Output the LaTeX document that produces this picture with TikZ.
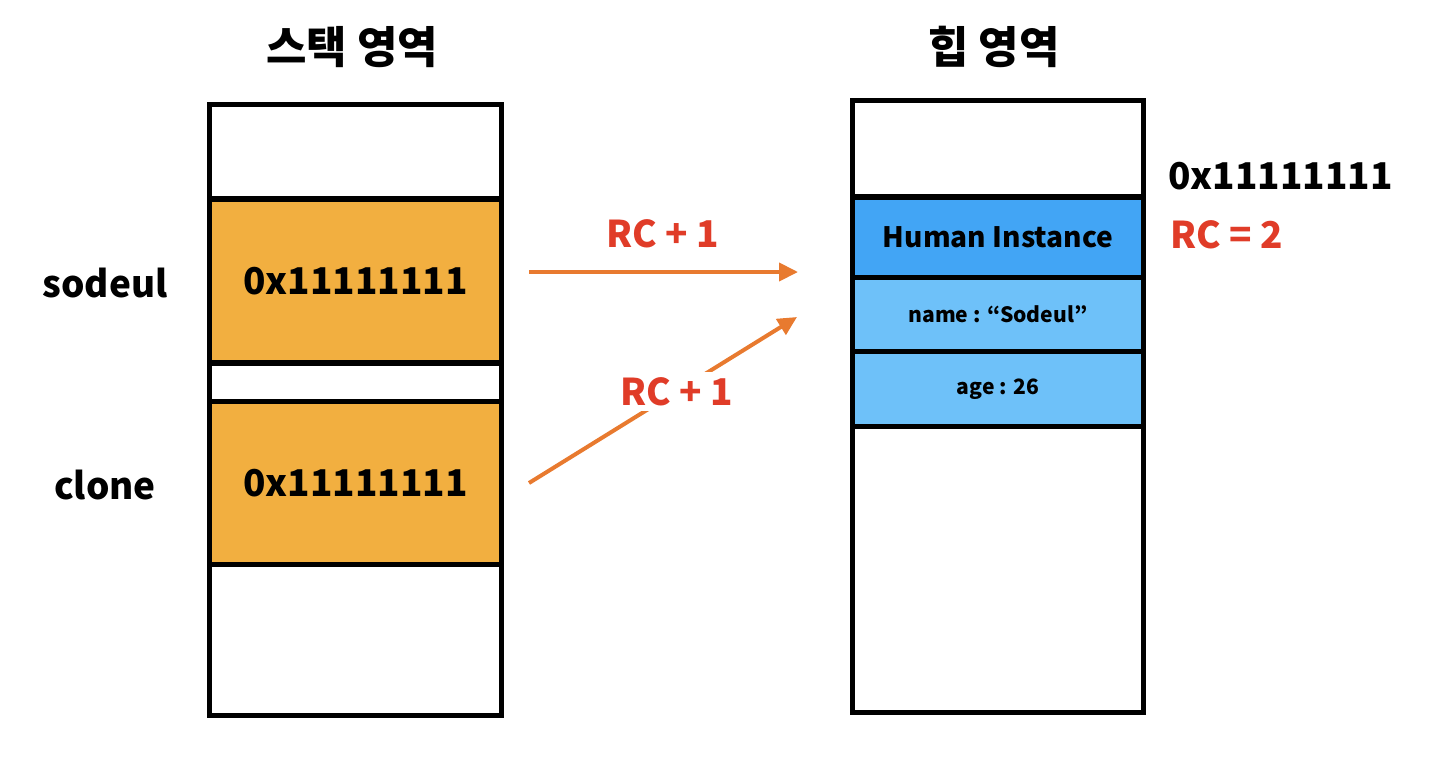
\documentclass[tikz,border=0pt]{standalone}
\usepackage{fontspec}
\setmainfont{Noto Sans CJK KR}
\usetikzlibrary{arrows.meta}

\definecolor{cellorange}{RGB}{242,175,64}
\definecolor{instblue}{RGB}{66,165,245}
\definecolor{fieldblue}{RGB}{110,193,249}
\definecolor{arroworange}{RGB}{232,122,47}
\definecolor{rcred}{RGB}{224,60,40}

\begin{document}
\begin{tikzpicture}[x=0.02cm, y=-0.02cm,
  cell/.style={draw, line width=0.1cm, inner sep=0pt, outer sep=0pt, minimum width=5.84cm},
  big/.style={font=\bfseries\fontsize{21}{24}\selectfont},
  title/.style={font=\bfseries\fontsize{25}{28}\selectfont},
  small/.style={font=\bfseries\fontsize{12}{14}\selectfont},
  refarrow/.style={arroworange, line width=0.08cm, -{Triangle[length=0.38cm, width=0.36cm]}}]
  \useasboundingbox (0,0) rectangle (1446,758);
  % stack area
  \node[title] (stacktitle) at (352,47) {스택 영역};
  \node[cell, minimum height=1.9cm] (s0) at (355.5,151.5) {};
  \node[cell, fill=cellorange, minimum height=3.28cm, big] (s1) at (355.5,281) {0x11111111};
  \node[cell, minimum height=0.76cm] (sgap) at (355.5,382) {};
  \node[cell, fill=cellorange, minimum height=3.27cm, big] (s2) at (355.5,482.75) {0x11111111};
  \node[cell, minimum height=3.02cm] (s3) at (355.5,640) {};
  \node[big] (sodeul) at (105,283) {sodeul};
  \node[big] (clone) at (105,485) {clone};
  % heap area
  \node[title] (heaptitle) at (994,47) {힙 영역};
  \node[cell, minimum width=5.82cm, minimum height=1.93cm] (h0) at (998,148.75) {};
  \node[cell, minimum width=5.82cm, fill=instblue, minimum height=1.6cm,
        font=\bfseries\fontsize{16}{19}\selectfont] (hi) at (998,237) {Human Instance};
  \node[cell, minimum width=5.82cm, fill=fieldblue, minimum height=1.48cm, small] (hname) at (998,314) {name : “Sodeul”};
  \node[cell, minimum width=5.82cm, fill=fieldblue, minimum height=1.51cm, small] (hage) at (998,388.75) {age : 26};
  \node[cell, minimum width=5.82cm, minimum height=5.73cm] (h1) at (998,569.75) {};
  \node[big, anchor=west] (haddr) at (1162,176) {0x11111111};
  \node[big, rcred, anchor=west] (rc) at (1164,235) {RC = 2};
  % references
  \coordinate (a1s) at (529,272);
  \coordinate (a1e) at (798,272);
  \coordinate (a2s) at (529,483);
  \coordinate (a2e) at (797,317);
  \draw[refarrow] (a1s) -- (a1e);
  \node[big, rcred] (rc1) at (663,234) {RC + 1};
  \draw[refarrow] (a2s) -- (a2e)
    node[pos=0.55, big, rcred, fill=white, inner sep=3pt] (rc2) {RC + 1};
\end{tikzpicture}
\end{document}
